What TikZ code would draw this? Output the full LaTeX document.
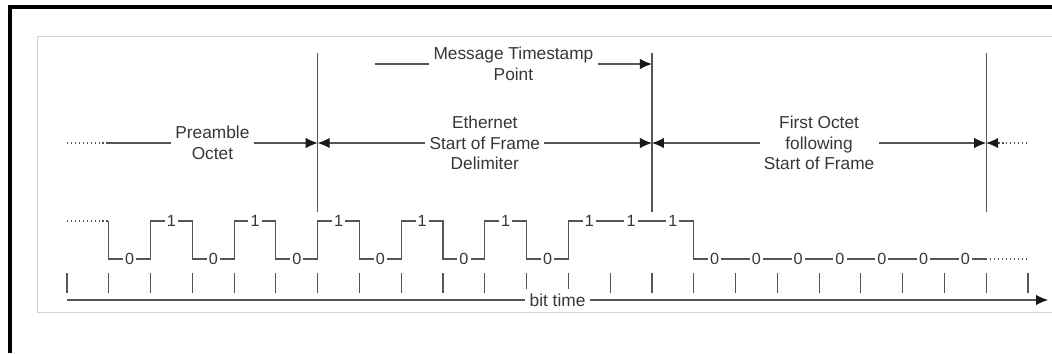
\documentclass[tikz,border=0pt]{standalone}
\usepackage{fontspec}
\setmainfont{Liberation Sans}
\usetikzlibrary{arrows.meta}
\begin{document}
\begin{tikzpicture}[x=1.0445cm,y=.5cm,font=\fontsize{12.3}{14.6}\selectfont,line width=.8pt,
  lbl/.style={fill=white,inner sep=3pt,align=center,text=textgray},
  bit/.style={fill=white,inner sep=1.5pt,text=textgray,font=\fontsize{11.5}{13}\selectfont},
  tip/.style={-{Latex[length=3mm,width=2.6mm,color=tipgray]}},
  dbl/.style={{Latex[length=3mm,width=2.6mm,color=tipgray]}-{Latex[length=3mm,width=2.6mm,color=tipgray]}}]
\definecolor{linegray}{RGB}{85,85,85}
\definecolor{textgray}{RGB}{55,55,55}
\definecolor{tipgray}{RGB}{25,25,25}
\useasboundingbox (-1.604,-2.65) rectangle (23.575,15);
% frame
\draw[line width=2.4pt] (23.575,14.65) -- (-1.364,14.65) -- (-1.364,-2.65);
\draw[gray!35,line width=.6pt] (23.575,13.2) -- (-0.718,13.2) -- (-0.718,-0.6) -- (23.575,-0.6);
% octet boundaries
\coordinate (edge6t) at (6,12.35);
\coordinate (edge6b) at (6,4.4);
\coordinate (edge14t) at (14,12.35);
\coordinate (edge14b) at (14,4.4);
\coordinate (edge22t) at (22,12.35);
\coordinate (edge22b) at (22,4.4);
\draw[linegray] (edge6t) -- (edge6b);
\draw[linegray] (edge14t) -- (edge14b);
\draw[linegray] (edge22t) -- (edge22b);
% timestamp
\coordinate (ts0) at (7.37,11.8);
\coordinate (ts1) at (14,11.8);
\draw[linegray,tip] (ts0) -- node[lbl] (mtp) {Message Timestamp\\Point} (ts1);
% octet spans
\coordinate (pre0) at (0,7.85);
\coordinate (pre1) at (0.96,7.85);
\coordinate (a6) at (6,7.85);
\coordinate (a14) at (14,7.85);
\coordinate (a22) at (22,7.85);
\coordinate (post) at (22.98,7.85);
\draw[linegray,dotted] (pre0) -- (pre1);
\draw[linegray,tip] (pre1) -- node[lbl] (preamble) {Preamble\\Octet} (a6);
\draw[linegray,dbl] (a6) -- node[lbl] (sfd) {Ethernet\\Start of Frame\\Delimiter} (a14);
\draw[linegray,dbl] (a14) -- node[lbl] (first) {First Octet\\following\\Start of Frame} (a22);
\draw[linegray,dotted,tip] (post) -- (a22);
% signal
\draw[linegray,dotted] (0,3.95) -- (1,3.95);
\draw[linegray] (1,3.95) -- (1,2.05) -- (2,2.05) -- (2,3.95) -- (3,3.95) -- (3,2.05) -- (4,2.05)
  -- (4,3.95) -- (5,3.95) -- (5,2.05) -- (6,2.05) -- (6,3.95) -- (7,3.95) -- (7,2.05) -- (8,2.05)
  -- (8,3.95) -- (9,3.95) -- (9,2.05) -- (10,2.05) -- (10,3.95) -- (11,3.95) -- (11,2.05) -- (12,2.05)
  -- (12,3.95) -- (15,3.95) -- (15,2.05) -- (22,2.05);
\draw[linegray,dotted] (22,2.05) -- (23,2.05);
\node[bit] (b1) at (1.5,2.05) {0};
\node[bit] (b2) at (2.5,3.95) {1};
\node[bit] (b3) at (3.5,2.05) {0};
\node[bit] (b4) at (4.5,3.95) {1};
\node[bit] (b5) at (5.5,2.05) {0};
\node[bit] (b6) at (6.5,3.95) {1};
\node[bit] (b7) at (7.5,2.05) {0};
\node[bit] (b8) at (8.5,3.95) {1};
\node[bit] (b9) at (9.5,2.05) {0};
\node[bit] (b10) at (10.5,3.95) {1};
\node[bit] (b11) at (11.5,2.05) {0};
\node[bit] (b12) at (12.5,3.95) {1};
\node[bit] (b13) at (13.5,3.95) {1};
\node[bit] (b14) at (14.5,3.95) {1};
\node[bit] (b15) at (15.5,2.05) {0};
\node[bit] (b16) at (16.5,2.05) {0};
\node[bit] (b17) at (17.5,2.05) {0};
\node[bit] (b18) at (18.5,2.05) {0};
\node[bit] (b19) at (19.5,2.05) {0};
\node[bit] (b20) at (20.5,2.05) {0};
\node[bit] (b21) at (21.5,2.05) {0};
% time axis
\draw[linegray] (0,.35)--(0,1.35) (1,.35)--(1,1.35) (2,.35)--(2,1.35) (3,.35)--(3,1.35)
  (4,.35)--(4,1.35) (5,.35)--(5,1.35) (6,.35)--(6,1.35) (7,.35)--(7,1.35)
  (8,.35)--(8,1.35) (9,.35)--(9,1.35) (10,.35)--(10,1.35) (11,.35)--(11,1.35)
  (12,.35)--(12,1.35) (13,.35)--(13,1.35) (14,.35)--(14,1.35) (15,.35)--(15,1.35)
  (16,.35)--(16,1.35) (17,.35)--(17,1.35) (18,.35)--(18,1.35) (19,.35)--(19,1.35)
  (20,.35)--(20,1.35) (21,.35)--(21,1.35) (22,.35)--(22,1.35) (23,.35)--(23,1.35);
\coordinate (ax0) at (0,0);
\coordinate (ax1) at (23.48,0);
\draw[linegray,tip] (ax0) -- node[lbl] (bt) {bit time} (ax1);
\end{tikzpicture}
\end{document}
